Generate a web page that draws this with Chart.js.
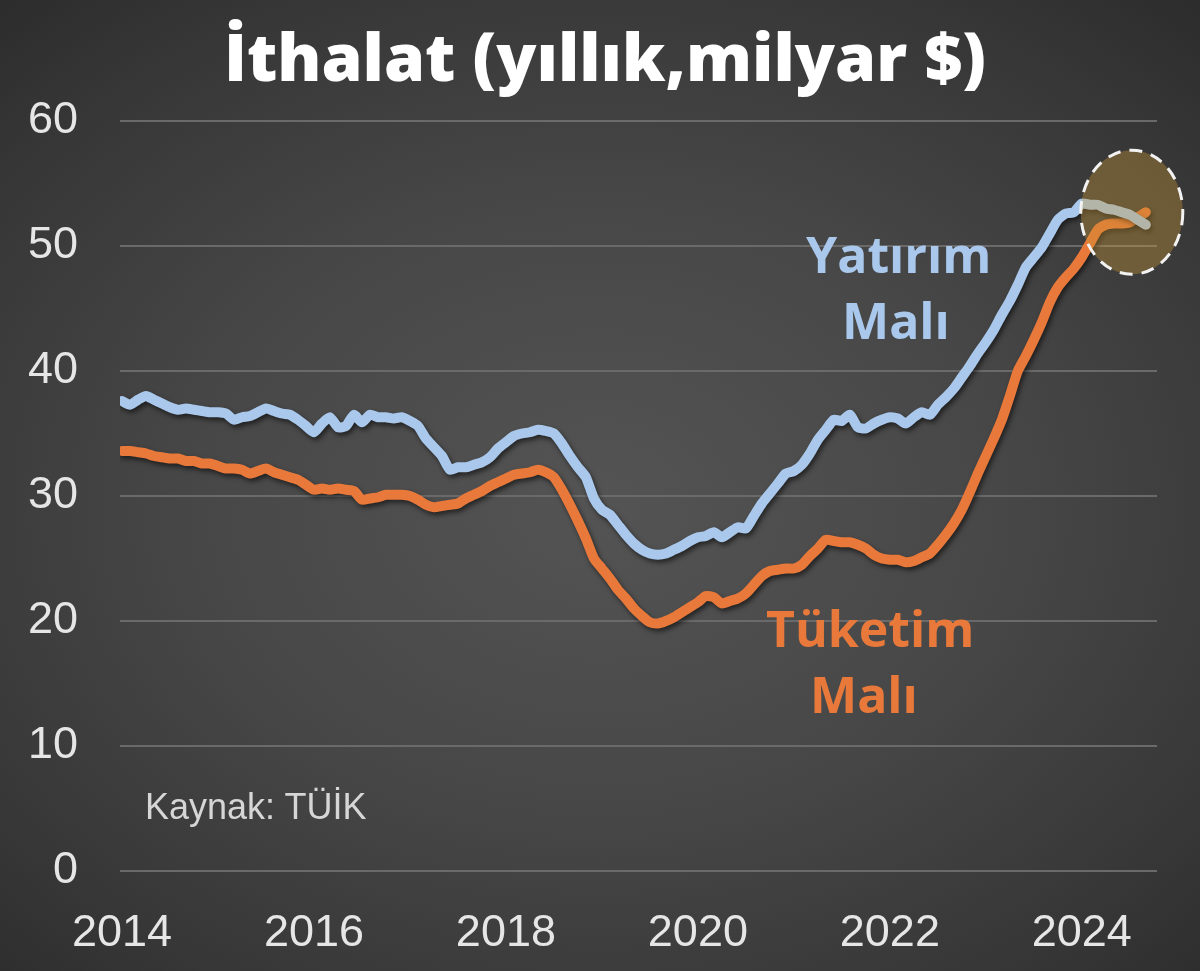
<!DOCTYPE html>
<html>
<head>
<meta charset="utf-8">
<script src="https://cdn.jsdelivr.net/npm/chart.js@4.4.1/dist/chart.umd.min.js"></script>
<style>
  html, body { margin: 0; padding: 0; }
  #wrap {
    position: relative; width: 1200px; height: 971px; overflow: hidden;
    background: radial-gradient(ellipse 75% 70% at 50% 52%, #545454 0%, #474747 45%, #363636 82%, #2c2c2c 100%);
  }
  #wrap canvas { position: absolute; left: 0; top: 0; }
  .lbl { position: absolute; font-family: "Open Sans", sans-serif; font-weight: 700; white-space: nowrap; }
  #title { left: 0; width: 1210px; top: 22px; line-height: 1; text-align: center; color: #fff; font-size: 66px; font-weight: 800; }
  .blue { color: #a9c8ec; font-size: 50px; }
  .orange { color: #e8793a; font-size: 50px; }
  #src { left: 145px; top: 786px; color: #d6d6d6; font-family: "Liberation Sans", Arial, sans-serif; font-size: 36px; font-weight: 400; }
</style>
</head>
<body>
<div id="wrap">
  <canvas id="importChart" width="1200" height="971"></canvas>
  <div id="title" class="lbl">İthalat (yıllık,milyar $)</div>
  <div class="lbl blue" style="left:806px; top:220px;">Yatırım</div>
  <div class="lbl blue" style="left:842px; top:286px;">Malı</div>
  <div class="lbl orange" style="left:766px; top:594px;">Tüketim</div>
  <div class="lbl orange" style="left:810px; top:660px;">Malı</div>
  <div id="src" class="lbl">Kaynak: TÜİK</div>
</div>
<script>
// monthly, Jan 2014 .. Sep 2024 (billion $, 12-month rolling)
const yearLabels = ['2014', '2016', '2018', '2020', '2022', '2024'];

const yatirimMali = [
  37.6, 37.3, 37.7, 38.0, 37.7, 37.4, 37.1, 36.9, 37.0, 36.9, 36.8, 36.7,
  36.7, 36.6, 36.1, 36.3, 36.4, 36.7, 37.0, 36.8, 36.6, 36.5, 36.1, 35.6,
  35.1, 35.8, 36.3, 35.5, 35.6, 36.5, 35.9, 36.5, 36.3, 36.3, 36.2, 36.3,
  36.0, 35.6, 34.6, 33.9, 33.2, 32.1, 32.3, 32.3, 32.5, 32.7, 33.1, 33.8,
  34.3, 34.8, 35.0, 35.1, 35.3, 35.2, 35.0, 34.2, 33.2, 32.3, 31.5, 29.8,
  28.9, 28.5, 27.7, 26.9, 26.2, 25.7, 25.4, 25.3, 25.4, 25.7, 26.0, 26.4,
  26.7, 26.8, 27.1, 26.7, 27.1, 27.5, 27.4, 28.4, 29.4, 30.2, 31.0, 31.8,
  32.0, 32.5, 33.4, 34.5, 35.3, 36.1, 36.0, 36.5, 35.5, 35.4, 35.8, 36.1,
  36.3, 36.2, 35.8, 36.3, 36.7, 36.5, 37.3, 37.9, 38.6, 39.5, 40.4, 41.4,
  42.3, 43.3, 44.5, 45.6, 46.9, 48.3, 49.1, 49.9, 51.0, 52.1, 52.6, 52.7,
  53.4, 53.3, 53.3, 53.0, 52.9, 52.7, 52.5, 52.1, 51.7
];

const tuketimMali = [
  33.6, 33.6, 33.5, 33.4, 33.2, 33.1, 33.0, 33.0, 32.8, 32.8, 32.6, 32.6,
  32.4, 32.2, 32.2, 32.1, 31.8, 32.0, 32.2, 31.9, 31.7, 31.5, 31.3, 30.9,
  30.5, 30.6, 30.5, 30.6, 30.5, 30.4, 29.7, 29.8, 29.9, 30.1, 30.1, 30.1,
  30.0, 29.7, 29.3, 29.1, 29.2, 29.3, 29.4, 29.8, 30.1, 30.4, 30.8, 31.1,
  31.4, 31.7, 31.8, 31.9, 32.1, 31.9, 31.5, 30.5, 29.3, 28.0, 26.6, 25.0,
  24.2, 23.4, 22.5, 21.8, 21.0, 20.4, 19.9, 19.8, 20.0, 20.3, 20.7, 21.1,
  21.5, 22.0, 21.9, 21.4, 21.6, 21.8, 22.2, 22.9, 23.6, 24.0, 24.1, 24.2,
  24.2, 24.5, 25.2, 25.8, 26.5, 26.4, 26.3, 26.3, 26.1, 25.8, 25.3, 25.0,
  24.9, 24.9, 24.7, 24.8, 25.1, 25.4, 26.1, 26.9, 27.8, 28.9, 30.3, 31.8,
  33.2, 34.6, 36.1, 38.0, 40.0, 41.2, 42.5, 43.9, 45.5, 46.7, 47.5, 48.2,
  49.1, 50.2, 51.3, 51.7, 51.8, 51.8, 51.9, 52.3, 52.7
];

const tickColor = '#e6e6e6';
const tickFont = { family: '"Liberation Sans", Arial, sans-serif', size: 45 };

// soft drop shadow under the lines
const lineShadow = {
  id: 'lineShadow',
  beforeDatasetsDraw(chart) {
    const c = chart.ctx;
    c.save();
    c.shadowColor = 'rgba(0,0,0,0.55)';
    c.shadowBlur = 5;
    c.shadowOffsetX = 2;
    c.shadowOffsetY = 3;
  },
  afterDatasetsDraw(chart) {
    chart.ctx.restore();
  }
};

// dashed highlight ellipse over the latest months
const highlight = {
  id: 'highlight',
  afterDatasetsDraw(chart) {
    const c = chart.ctx;
    const x = chart.scales.x.getPixelForValue(126.25);
    const y = chart.scales.y.getPixelForValue(52.7);
    c.save();
    c.beginPath();
    c.ellipse(x, y, 51, 62, 0, 0, Math.PI * 2);
    c.fillStyle = 'rgba(200,150,53,0.37)';
    c.fill();
    c.setLineDash([13, 9]);
    c.lineWidth = 3;
    c.strokeStyle = '#f2f2f2';
    c.stroke();
    c.restore();
  }
};

const ctx = document.getElementById('importChart').getContext('2d');
new Chart(ctx, {
  type: 'line',
  data: {
    datasets: [
      {
        label: 'Yatırım Malı',
        data: yatirimMali.map((v, i) => ({ x: i, y: v })),
        borderColor: '#a9c8ec',
        borderWidth: 10,
        pointRadius: 0,
        tension: 0.2,
        borderCapStyle: 'round',
        borderJoinStyle: 'round'
      },
      {
        label: 'Tüketim Malı',
        data: tuketimMali.map((v, i) => ({ x: i, y: v })),
        borderColor: '#e8793a',
        borderWidth: 10,
        pointRadius: 0,
        tension: 0.2,
        borderCapStyle: 'round',
        borderJoinStyle: 'round'
      }
    ]
  },
  options: {
    responsive: false,
    animation: false,
    layout: { padding: { top: 121, right: 43, left: 0, bottom: 0 } },
    plugins: { legend: { display: false }, tooltip: { enabled: false } },
    scales: {
      x: {
        type: 'linear',
        min: -0.25,
        max: 129.4,
        afterBuildTicks: s => { s.ticks = yearLabels.map((_, i) => ({ value: i * 24 })); },
        afterFit: s => { s.height = 100; },
        ticks: {
          callback: v => yearLabels[v / 24],
          color: tickColor,
          font: tickFont,
          padding: 28,
          maxRotation: 0,
          autoSkip: false
        },
        grid: { display: false },
        border: { display: false }
      },
      y: {
        min: 0,
        max: 60,
        afterFit: s => { s.width = 120; },
        ticks: { stepSize: 10, color: tickColor, font: tickFont, padding: 42 },
        grid: { color: '#6a6a6a', lineWidth: 2, drawTicks: false },
        border: { display: false }
      }
    }
  },
  plugins: [lineShadow, highlight]
});
</script>
</body>
</html>
